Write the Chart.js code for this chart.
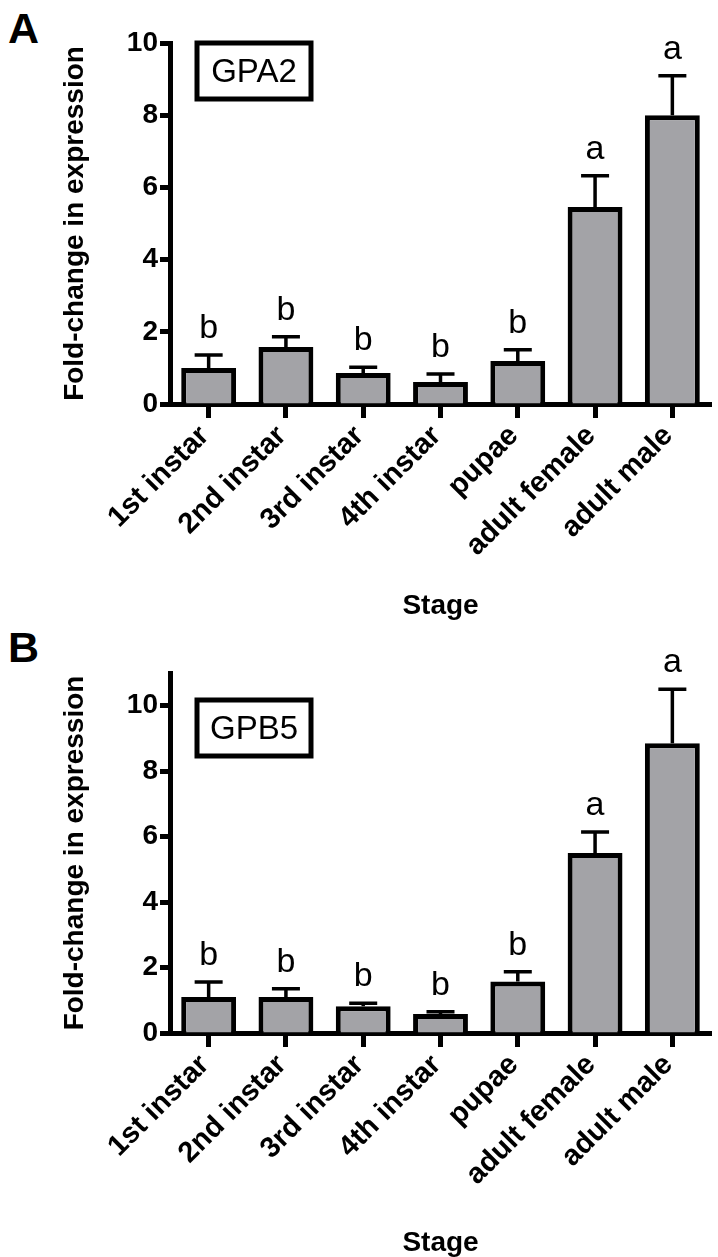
<!DOCTYPE html>
<html>
<head>
<meta charset="utf-8">
<script src="https://cdn.jsdelivr.net/npm/chart.js@4.4.0/dist/chart.umd.min.js"></script>
<style>
  body { margin: 0; background: #fff; }
  #wrap { position: relative; width: 718px; height: 1257px; }
  canvas { position: absolute; left: 0; }
  .panel { position: absolute; left: 8px; font: bold 43px "Liberation Sans", Arial, sans-serif; line-height: 1; color: #000; }
</style>
</head>
<body>
<div id="wrap">
  <div class="panel" style="top:7px">A</div>
  <div class="panel" style="top:626px">B</div>
  <canvas id="grafico-a" width="718" height="620" style="top:0"></canvas>
  <canvas id="grafico-b" width="718" height="637" style="top:620px"></canvas>
</div>
<script>
// Datos
const etapas = ['1st instar', '2nd instar', '3rd instar', '4th instar', 'pupae', 'adult female', 'adult male'];

const gpa2Media = [1.0, 1.58, 0.86, 0.61, 1.19, 5.46, 8.0];
const gpa2Error = [0.36, 0.28, 0.16, 0.22, 0.31, 0.86, 1.09];
const gpa2Letras = ['b', 'b', 'b', 'b', 'b', 'a', 'a'];

const gpb5Media = [1.1, 1.1, 0.82, 0.58, 1.57, 5.5, 8.85];
const gpb5Error = [0.46, 0.25, 0.09, 0.07, 0.3, 0.64, 1.65];
const gpb5Letras = ['b', 'b', 'b', 'b', 'b', 'a', 'a'];

const fuente = '"Liberation Sans", Arial, Helvetica, sans-serif';

// Barras de error, letras y recuadro con el nombre del gen
const erroresPlugin = {
  id: 'errores',
  afterDatasetsDraw(chart, args, opts) {
    const ctx = chart.ctx;
    const y = chart.scales.y;
    const barras = chart.getDatasetMeta(0).data;
    ctx.save();
    ctx.strokeStyle = '#000';
    ctx.fillStyle = '#000';
    ctx.lineWidth = 3.5;
    ctx.font = '34px ' + fuente;
    ctx.textAlign = 'center';
    ctx.textBaseline = 'alphabetic';
    barras.forEach((barra, i) => {
      const yBarra = y.getPixelForValue(opts.media[i]);
      const yTope = y.getPixelForValue(opts.media[i] + opts.error[i]);
      ctx.beginPath();
      ctx.moveTo(barra.x, yBarra);
      ctx.lineTo(barra.x, yTope);
      ctx.moveTo(barra.x - 14, yTope);
      ctx.lineTo(barra.x + 14, yTope);
      ctx.stroke();
      ctx.fillText(opts.letras[i], barra.x, yTope - 17);
    });

    const area = chart.chartArea;
    const bx = area.left + 27;
    const by = area.top + opts.cajaTop;
    ctx.lineWidth = 5;
    ctx.strokeRect(bx, by, 114, 56);
    ctx.font = '33px ' + fuente;
    ctx.textBaseline = 'middle';
    ctx.fillText(opts.gen, bx + 57, by + 30);
    ctx.restore();
  }
};

function crearGrafico(id, media, error, letras, gen, yMax, padTop, altoX, cajaTop) {
  const ctx = document.getElementById(id).getContext('2d');
  return new Chart(ctx, {
    type: 'bar',
    data: {
      labels: etapas,
      datasets: [{
        data: media,
        backgroundColor: '#a3a3a7',
        borderColor: '#000',
        borderWidth: 5,
        barPercentage: 0.71,
        categoryPercentage: 1
      }]
    },
    options: {
      responsive: false,
      devicePixelRatio: 1,
      animation: false,
      layout: { padding: { left: 0, right: 7, top: padTop, bottom: 0 } },
      plugins: {
        legend: { display: false },
        tooltip: { enabled: false },
        errores: { media: media, error: error, letras: letras, gen: gen, cajaTop: cajaTop }
      },
      scales: {
        x: {
          offset: true,
          grid: { display: true, drawOnChartArea: false, offset: false, tickLength: 14, tickWidth: 5, tickColor: '#000' },
          border: { display: true, color: '#000', width: 5 },
          ticks: {
            color: '#000',
            font: { family: fuente, size: 29, weight: 'bold' },
            minRotation: 45,
            maxRotation: 45,
            autoSkip: false,
            labelOffset: -4,
            padding: 1
          },
          title: {
            display: true,
            text: 'Stage',
            color: '#000',
            font: { family: fuente, size: 28, weight: 'bold', lineHeight: 1 },
            padding: 0
          },
          afterFit(scale) { scale.height = altoX; }
        },
        y: {
          min: 0,
          max: yMax,
          grid: { display: true, drawOnChartArea: false, tickLength: 10, tickWidth: 5, tickColor: '#000' },
          border: { display: true, color: '#000', width: 5 },
          ticks: {
            stepSize: 2,
            includeBounds: false,
            color: '#000',
            font: { family: fuente, size: 28, weight: 'bold' },
            padding: 2
          },
          title: {
            display: true,
            text: 'Fold-change in expression',
            color: '#000',
            font: { family: fuente, size: 28, weight: 'bold', lineHeight: 1 },
            padding: { top: 61, bottom: 0 }
          },
          afterFit(scale) { scale.width = 170; }
        }
      }
    },
    plugins: [erroresPlugin]
  });
}

crearGrafico('grafico-a', gpa2Media, gpa2Error, gpa2Letras, 'GPA2', 10, 43, 216, 0);
crearGrafico('grafico-b', gpb5Media, gpb5Error, gpb5Letras, 'GPB5', 11, 53, 224, 27);
</script>
</body>
</html>
